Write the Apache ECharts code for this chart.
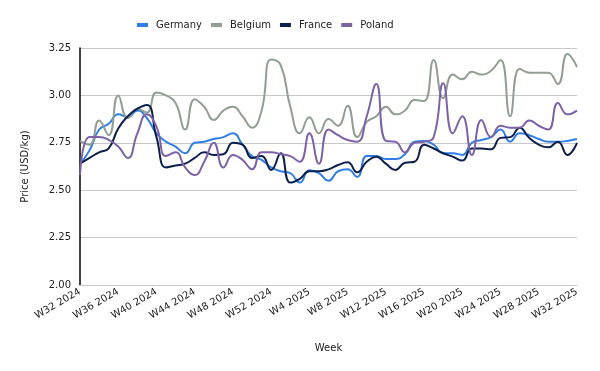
<!DOCTYPE html>
<html><head><meta charset="utf-8">
<script src="https://cdn.jsdelivr.net/npm/echarts@6/dist/echarts.min.js"></script>
<style>html,body{margin:0;padding:0;background:#fff}#c{width:600px;height:371px}</style>
</head><body><div id="c"></div>
<script>
const weeks = [];
for (let w = 32; w <= 52; w++) weeks.push('W' + w + ' 2024');
for (let w = 1; w <= 32; w++) weeks.push('W' + w + ' 2025');

const germany = [2.64,2.71,2.82,2.85,2.90,2.885,2.92,2.88,2.80,2.756,2.73,2.695,2.75,2.756,2.77,2.78,2.80,2.74,2.68,2.66,2.62,2.60,2.59,2.54,2.605,2.59,2.55,2.60,2.61,2.57,2.68,2.68,2.665,2.665,2.69,2.756,2.76,2.74,2.695,2.695,2.686,2.75,2.765,2.78,2.82,2.756,2.80,2.79,2.77,2.756,2.756,2.76,2.77];
const belgium = [2.76,2.74,2.867,2.79,3.00,2.88,2.93,2.91,3.015,3.00,2.96,2.82,2.98,2.94,2.87,2.92,2.94,2.89,2.83,2.92,3.19,3.16,2.94,2.80,2.885,2.80,2.875,2.84,2.946,2.78,2.86,2.89,2.94,2.90,2.92,2.976,2.97,3.187,2.985,3.11,3.085,3.125,3.11,3.13,3.187,2.89,3.14,3.12,3.12,3.12,3.06,3.218,3.15];
const france = [2.64,2.67,2.70,2.72,2.826,2.89,2.93,2.95,2.78,2.62,2.63,2.64,2.67,2.70,2.686,2.69,2.75,2.74,2.67,2.68,2.607,2.695,2.54,2.56,2.60,2.60,2.61,2.633,2.647,2.595,2.65,2.677,2.64,2.607,2.645,2.65,2.74,2.72,2.695,2.677,2.656,2.72,2.72,2.716,2.776,2.78,2.83,2.776,2.74,2.726,2.756,2.686,2.75];
const poland = [2.58,2.78,2.78,2.765,2.73,2.67,2.80,2.90,2.835,2.68,2.70,2.62,2.58,2.65,2.75,2.62,2.686,2.66,2.61,2.70,2.70,2.69,2.68,2.65,2.80,2.64,2.82,2.79,2.765,2.756,2.89,3.06,2.76,2.756,2.70,2.75,2.756,2.78,3.064,2.80,2.89,2.686,2.87,2.78,2.84,2.83,2.83,2.867,2.84,2.82,2.96,2.90,2.92];

const names = ['Germany','Belgium','France','Poland'];
const colors = ['#2f7fe6','#909f92','#0c1f4e','#7e62a8'];
const values = [germany, belgium, france, poland];

const chart = echarts.init(document.getElementById('c'));
const font = 'DejaVu Sans';
chart.setOption({
  animation: false,
  color: colors,
  legend: {
    top: 15, left: 132, itemWidth: 11, itemHeight: 4, itemGap: 9,
    icon: 'rect',
    textStyle: { fontFamily: font, fontSize: 10, color: '#222', padding: [0, 0, 0, 3] },
    data: names
  },
  grid: { left: 80, right: 23, top: 48, bottom: 86 },
  xAxis: {
    type: 'category', data: weeks, boundaryGap: false,
    name: 'Week', nameLocation: 'middle', nameGap: 58,
    nameTextStyle: { fontFamily: font, fontSize: 10, color: '#222' },
    axisLine: { show: true, lineStyle: { color: '#c8c8c8' } },
    axisTick: { show: false },
    axisLabel: { interval: 3, rotate: 30, fontFamily: font, fontSize: 10, color: '#222', margin: 6 },
    splitLine: { show: false }
  },
  yAxis: {
    type: 'value', min: 2, max: 3.25, interval: 0.25,
    name: 'Price (USD/kg)', nameLocation: 'middle', nameGap: 50,
    nameTextStyle: { fontFamily: font, fontSize: 10, color: '#222' },
    axisLine: { show: true, lineStyle: { color: '#000', width: 1.5 } },
    axisTick: { show: false },
    axisLabel: { formatter: v => v.toFixed(2), fontFamily: font, fontSize: 10, color: '#222', margin: 9 },
    splitLine: { lineStyle: { color: '#c8c8c8' } }
  },
  series: names.map((n, i) => ({
    name: n, type: 'line', data: values[i], smooth: 0.5, showSymbol: false,
    lineStyle: { width: 2, color: colors[i] }, itemStyle: { color: colors[i] }
  }))
});
</script></body></html>
